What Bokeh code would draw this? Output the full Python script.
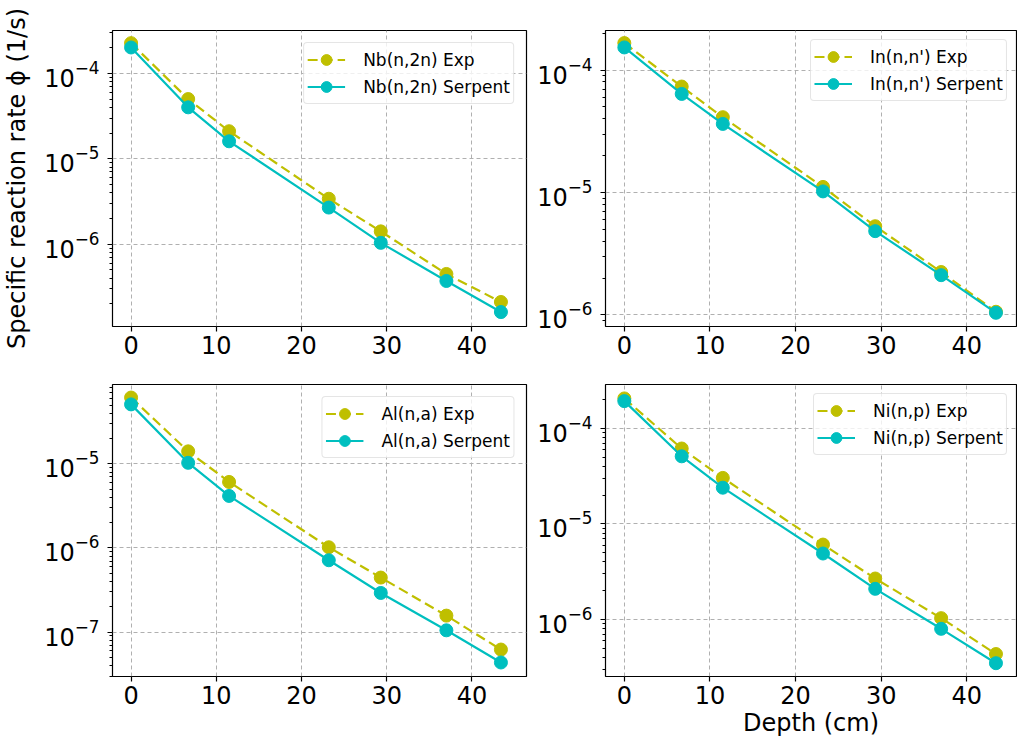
from bokeh.plotting import figure
from bokeh.layouts import column, row
from bokeh.models import Range1d, FixedTicker, LogTickFormatter, Legend, LegendItem
from bokeh.embed import file_html
from bokeh.resources import INLINE

# ---------------- data ----------------
depth = [0.0, 6.7, 11.5, 23.2, 29.3, 37.0, 43.4]

nb_exp = [2.26e-4, 5.0e-5, 2.1e-5, 3.4e-6, 1.41e-6, 4.47e-7, 2.1e-7]
nb_serp = [2.01e-4, 4.0e-5, 1.6e-5, 2.68e-6, 1.035e-6, 3.7e-7, 1.6e-7]

in_exp = [1.66e-4, 7.33e-5, 4.12e-5, 1.11e-5, 5.3e-6, 2.24e-6, 1.06e-6]
in_serp = [1.53e-4, 6.38e-5, 3.63e-5, 1.02e-5, 4.83e-6, 2.11e-6, 1.04e-6]

al_exp = [6.15e-5, 1.41e-5, 6.1e-6, 1.02e-6, 4.45e-7, 1.57e-7, 6.2e-8]
al_serp = [5.1e-5, 1.03e-5, 4.16e-6, 7.15e-7, 2.92e-7, 1.05e-7, 4.35e-8]

ni_exp = [2.07e-4, 6.18e-5, 3.04e-5, 6.08e-6, 2.68e-6, 1.03e-6, 4.33e-7]
ni_serp = [1.94e-4, 5.12e-5, 2.4e-5, 4.9e-6, 2.09e-6, 7.96e-7, 3.47e-7]

reactions = ["Nb(n,2n)", "In(n,n')", "Al(n,a)", "Ni(n,p)"]
x_ticks = [0, 10, 20, 30, 40]
y_decades = [1e-9, 1e-8, 1e-7, 1e-6, 1e-5, 1e-4, 1e-3]
x_label = "Depth (cm)"
y_label = "Specific reaction rate \u03d5 (1/s)"

EXP_COLOR = "#bfbf00"
SERP_COLOR = "#00bfbf"
FONT = "DejaVu Sans"

minor = [m * d for d in y_decades for m in range(2, 10)]


def make_panel(exp, serp, name, x_rng, y_rng, width, height,
               mbl, mbr, mbt, mbb, legend_margin, xlabel=None, ylabel=None):
    p = figure(width=width, height=height, y_axis_type="log",
               x_range=Range1d(*x_rng), y_range=Range1d(*y_rng),
               output_backend="svg", toolbar_location=None,
               min_border_left=mbl, min_border_right=mbr,
               min_border_top=mbt, min_border_bottom=mbb,
               background_fill_color="white", border_fill_color="white")
    p.outline_line_color = "black"
    p.outline_line_width = 1.2
    p.outline_line_alpha = 1.0

    for g in (p.xgrid, p.ygrid):
        g.grid_line_color = "#b0b0b0"
        g.grid_line_dash = "4 3"
        g.grid_line_width = 1

    p.xaxis.ticker = FixedTicker(ticks=x_ticks)
    p.yaxis.ticker = FixedTicker(ticks=y_decades, minor_ticks=minor)
    p.yaxis.formatter = LogTickFormatter()
    for ax in (p.xaxis[0], p.yaxis[0]):
        ax.axis_line_color = None
        ax.major_tick_in = 0
        ax.major_tick_out = 5
        ax.major_tick_line_width = 1.2
        ax.minor_tick_in = 0
        ax.minor_tick_out = 3
        ax.minor_tick_line_width = 1
        ax.major_label_text_font = FONT
        ax.major_label_text_font_size = "24px"
        ax.major_label_text_color = "black"
        ax.axis_label_text_font = FONT
        ax.axis_label_text_font_style = "normal"
        ax.axis_label_text_color = "black"
        ax.axis_label_text_font_size = "24px"
    p.xaxis.minor_tick_line_color = None
    p.xaxis.major_label_standoff = 4
    p.yaxis.major_label_standoff = 8

    if xlabel:
        p.xaxis.axis_label = xlabel
        p.xaxis.axis_label_standoff = 2
    if ylabel:
        p.yaxis.axis_label = ylabel
        p.yaxis.axis_label_standoff = 10

    le = p.line(depth, exp, line_color=EXP_COLOR, line_width=2.2, line_dash="10 5")
    se = p.scatter(depth, exp, size=13, marker="circle", fill_color=EXP_COLOR,
                   line_color=EXP_COLOR)
    ls = p.line(depth, serp, line_color=SERP_COLOR, line_width=2.2)
    ss = p.scatter(depth, serp, size=13, marker="circle", fill_color=SERP_COLOR,
                   line_color=SERP_COLOR)

    legend = Legend(items=[LegendItem(label=f"{name} Exp", renderers=[le, se]),
                           LegendItem(label=f"{name} Serpent", renderers=[ls, ss])],
                    location="top_right", margin=legend_margin, padding=3, spacing=0,
                    glyph_width=38, glyph_height=27, label_standoff=18,
                    label_text_font=FONT, label_text_font_size="17px",
                    label_text_color="black",
                    border_line_color="#cccccc", border_line_width=1,
                    background_fill_color="white", background_fill_alpha=0.8)
    try:
        legend.border_radius = 4
    except Exception:
        pass
    p.add_layout(legend)
    return p


W1, W2 = 530, 487
H1, H2 = 364, 375

p1 = make_panel(nb_exp, nb_serp, reactions[0], (-2.18, 46.4),
                (10 ** -6.965, 10 ** -3.498), W1, H1, 112, 4, 30, 38, 12,
                ylabel=y_label)
p2 = make_panel(in_exp, in_serp, reactions[1], (-2.2, 45.8),
                (10 ** -6.095, 10 ** -3.677), W2, H1, 75, 1, 30, 38, 9)
p3 = make_panel(al_exp, al_serp, reactions[2], (-2.18, 46.4),
                (10 ** -7.528, 10 ** -4.056), W1, H2, 112, 4, 20, 62, 12)
p4 = make_panel(ni_exp, ni_serp, reactions[3], (-2.2, 45.8),
                (10 ** -6.599, 10 ** -3.538), W2, H2, 75, 1, 20, 62, 9,
                xlabel=x_label)

layout = column(row(p1, p2, spacing=0), row(p3, p4, spacing=0), spacing=0)

open("out.html", "w").write(file_html(layout, INLINE))
